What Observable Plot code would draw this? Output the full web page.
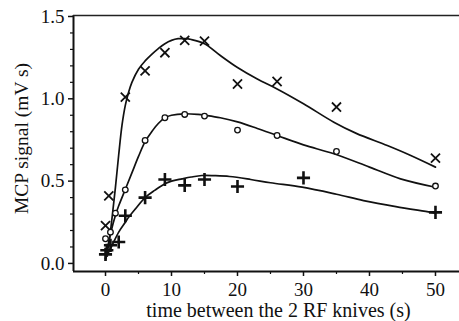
<!DOCTYPE html>
<html>
<head>
<meta charset="utf-8">
<script src="https://cdn.jsdelivr.net/npm/d3@7"></script>
<script src="https://cdn.jsdelivr.net/npm/@observablehq/plot@0.6"></script>
<style>
  html, body { margin: 0; padding: 0; background: #fff; }
  #chart svg { display: block; }
  #chart svg text { font-family: "Liberation Serif", "Times New Roman", serif; }
</style>
</head>
<body>
<div id="chart"></div>
<script>
// ---- data ----
const crossX = [0, 0.5, 3, 6, 9, 12, 15, 20, 26, 35, 50];
const crossY = [0.23, 0.41, 1.01, 1.17, 1.28, 1.355, 1.35, 1.09, 1.105, 0.95, 0.64];

const circleX = [0, 0.75, 1.5, 3, 6, 9, 12, 15, 20, 26, 35, 50];
const circleY = [0.15, 0.19, 0.305, 0.447, 0.747, 0.885, 0.905, 0.895, 0.81, 0.777, 0.68, 0.47];

const plusX = [0, 0.2, 0.75, 2, 3, 6, 9, 12, 15, 20, 30, 50];
const plusY = [0.055, 0.08, 0.11, 0.13, 0.29, 0.40, 0.51, 0.474, 0.51, 0.467, 0.52, 0.31];

// fitted curves
const fitCrossX = [0, 0.5, 1, 1.5, 2, 2.5, 3, 3.5, 4, 5, 6, 7, 8, 9, 10, 11, 12, 13, 15, 17.4, 20, 23, 26, 30, 34.6, 38, 42.7, 46, 50];
const fitCrossY = [0.02, 0.12, 0.28, 0.46, 0.66, 0.84, 0.96, 1.04, 1.10, 1.18, 1.23, 1.27, 1.305, 1.335, 1.355, 1.365, 1.365, 1.36, 1.335, 1.263, 1.19, 1.12, 1.06, 0.97, 0.858, 0.79, 0.716, 0.66, 0.585];

const fitCircleX = [0, 0.25, 0.75, 1.6, 2, 3, 4, 5, 6, 7, 8, 9, 10, 12, 14, 15.2, 17.4, 20, 23, 26, 30, 34.6, 40, 44.7, 50];
const fitCircleY = [0.03, 0.08, 0.18, 0.305, 0.35, 0.45, 0.55, 0.65, 0.74, 0.80, 0.85, 0.885, 0.90, 0.909, 0.905, 0.899, 0.885, 0.86, 0.82, 0.777, 0.72, 0.666, 0.585, 0.514, 0.463];

const fitPlusX = [0, 0.5, 1, 2, 3, 3.5, 4.5, 6, 7.5, 9, 10, 11.6, 13, 14.6, 16.5, 18.8, 22, 25, 29.8, 35, 39.1, 44, 49.2, 50];
const fitPlusY = [0.03, 0.07, 0.11, 0.19, 0.25, 0.28, 0.33, 0.40, 0.445, 0.484, 0.50, 0.514, 0.525, 0.534, 0.533, 0.528, 0.51, 0.49, 0.463, 0.42, 0.382, 0.345, 0.311, 0.305];

const xTicks = [0, 10, 20, 30, 40, 50];
const xMinor = [5, 15, 25, 35, 45];
const yTicks = [0, 0.5, 1.0, 1.5];
const yMinor = [0.1, 0.2, 0.3, 0.4, 0.6, 0.7, 0.8, 0.9, 1.1, 1.2, 1.3, 1.4];

const xDomain = [-4.85, 53.64];
const yDomain = [-0.049, 1.506];

const xLabel = "time between the 2 RF knives (s)";
const yLabel = "MCP signal (mV s)";

const FONT = "Liberation Serif, Times New Roman, serif";
const pts = (xs, ys) => xs.map((x, i) => ({x, y: ys[i]}));

const chart = Plot.plot({
  width: 459,
  height: 321,
  marginLeft: 73,
  marginRight: 0,
  marginTop: 15,
  marginBottom: 50,
  x: {domain: xDomain, axis: null},
  y: {domain: yDomain, axis: null},
  style: {fontFamily: FONT, fontSize: "19px", color: "#111", background: "#fff"},
  marks: [
    // frame lines (left, top, bottom)
    Plot.ruleX([xDomain[0]], {stroke: "#111", strokeWidth: 2}),
    Plot.ruleY([yDomain[0]], {stroke: "#111", strokeWidth: 2}),
    Plot.ruleY([yDomain[1]], {stroke: "#222", strokeWidth: 1.5}),
    // tick marks
    Plot.axisX(xTicks, {tickSize: 5, tickFormat: () => "", label: null, strokeWidth: 1.5}),
    Plot.axisX(xMinor, {tickSize: 3, tickFormat: () => "", label: null, strokeWidth: 1.2}),
    Plot.axisY(yTicks, {tickSize: 5, tickFormat: () => "", label: null, strokeWidth: 1.5}),
    Plot.axisY(yMinor, {tickSize: 3, tickFormat: () => "", label: null, strokeWidth: 1.2}),
    // tick labels
    Plot.text(xTicks, {x: d => d, frameAnchor: "bottom", lineAnchor: "top", textAnchor: "middle", dy: 11, text: d3.format("d"), fontSize: 19, fontFamily: FONT, fill: "#111"}),
    Plot.text(yTicks, {y: d => d, frameAnchor: "left", lineAnchor: "middle", textAnchor: "end", dx: -9, text: d3.format(".1f"), fontSize: 19, fontFamily: FONT, fill: "#111"}),
    // axis titles
    Plot.text([xLabel], {frameAnchor: "bottom", lineAnchor: "middle", textAnchor: "middle", text: d => d, dx: 12, dy: 39, fontSize: 20, fontFamily: FONT, fill: "#111"}),
    Plot.text([yLabel], {frameAnchor: "left", lineAnchor: "middle", textAnchor: "middle", text: d => d, rotate: -90, dx: -52, dy: -5, fontSize: 19.5, fontFamily: FONT, fill: "#111"}),
    // fitted curves
    Plot.line(pts(fitCrossX, fitCrossY), {x: "x", y: "y", curve: "catmull-rom", stroke: "#111", strokeWidth: 1.7}),
    Plot.line(pts(fitCircleX, fitCircleY), {x: "x", y: "y", curve: "catmull-rom", stroke: "#111", strokeWidth: 1.7}),
    Plot.line(pts(fitPlusX, fitPlusY), {x: "x", y: "y", curve: "catmull-rom", stroke: "#111", strokeWidth: 1.7}),
    // data markers
    Plot.dot(pts(crossX, crossY), {x: "x", y: "y", symbol: "times", r: 4.2, stroke: "#111", strokeWidth: 1.8}),
    Plot.dot(pts(circleX, circleY), {x: "x", y: "y", symbol: "circle", r: 2.8, fill: "#fff", stroke: "#111", strokeWidth: 1.3}),
    Plot.dot(pts(plusX, plusY), {x: "x", y: "y", symbol: "plus", r: 4.3, stroke: "#111", strokeWidth: 2.6})
  ]
});
document.getElementById("chart").appendChild(chart);
</script>
</body>
</html>
